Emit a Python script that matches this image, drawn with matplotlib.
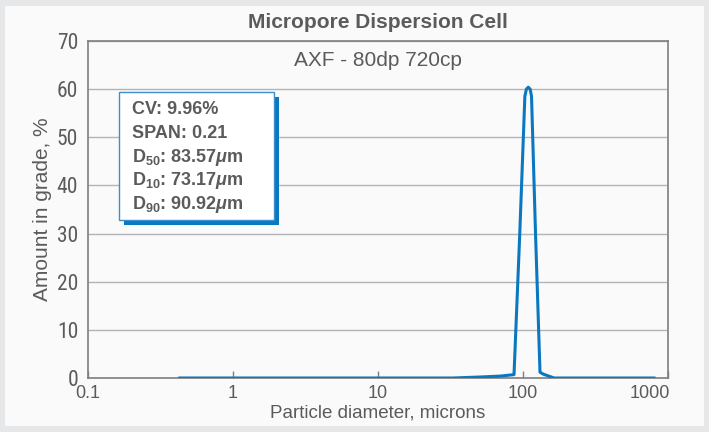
import matplotlib
matplotlib.use("Agg")
import matplotlib.pyplot as plt
from matplotlib.patches import Rectangle
from matplotlib import font_manager

# ---- data ----
diam = [0.43, 1, 10, 32.9, 50, 70, 86.7, 95, 103, 105.5, 108.8, 112, 114.5, 122, 131, 138, 164, 200, 500, 800]
amount = [0, 0, 0, 0, 0.2, 0.4, 0.7, 30, 58.5, 60.0, 60.4, 60.0, 58.5, 30, 1.2, 0.8, 0, 0, 0, 0]
xticks = [0.1, 1, 10, 100, 1000]
xticklabels = ["0.1", "1", "10", "100", "1000"]
yticks = [0, 10, 20, 30, 40, 50, 60, 70]
stats = [r"CV: 9.96%", r"SPAN: 0.21", r"D$_{50}$: 83.57$\mu$m", r"D$_{10}$: 73.17$\mu$m", r"D$_{90}$: 90.92$\mu$m"]
title = "Micropore Dispersion Cell"
subtitle = "AXF - 80dp 720cp"

names = {f.name for f in font_manager.fontManager.ttflist}
narrow = "Liberation Sans"
for cand in ["Liberation Sans Narrow", "Nimbus Sans Narrow", "Roboto Condensed", "Archivo Narrow"]:
    if cand in names:
        narrow = cand
        break

plt.rcParams['font.family'] = ['Liberation Sans', 'DejaVu Sans']
plt.rcParams['mathtext.fontset'] = 'custom'
plt.rcParams['mathtext.rm'] = 'Liberation Sans:bold'
plt.rcParams['mathtext.it'] = 'Liberation Sans:bold:italic'
plt.rcParams['mathtext.bf'] = 'Liberation Sans:bold'

W, H = 709, 432
fig = plt.figure(figsize=(W/100, H/100), dpi=100, facecolor="#e6e7e9")
fig.patches.append(Rectangle((5/W, 6/H), 699/W, 420/H, transform=fig.transFigure,
                             facecolor="#fafafa", edgecolor="none", zorder=-5))

L, R, T, B = 88, 668, 41, 378
ax = fig.add_axes([L/W, 1-B/H, (R-L)/W, (B-T)/H])
ax.set_zorder(1)
ax.set_facecolor("#fafafa")
ax.set_xscale("log")
ax.set_xlim(0.1, 1000)
ax.set_ylim(0, 70)
txtc = "#5b5b5b"
for s in ax.spines.values():
    s.set_color("#7f7f7f")
    s.set_linewidth(1.2)
ax.set_yticks(yticks)
ax.set_yticklabels([str(v) for v in yticks], family=[narrow, "DejaVu Sans"])
ax.set_xticks(xticks)
ax.set_xticklabels(xticklabels[:-1] + [""])
ax.minorticks_off()
ax.tick_params(axis="y", length=0, pad=7, labelsize=15.5, labelcolor=txtc)
ax.tick_params(axis="x", direction="in", length=5, width=1, color="#7f7f7f", pad=5, labelsize=13, labelcolor=txtc)
# last x tick label kept inside the frame, right-aligned as in the reference
ax.annotate(xticklabels[-1], xy=(xticks[-1], 0), xycoords=("data", "axes fraction"),
            xytext=(1.5, -5.2), textcoords="offset points", ha="right", va="top",
            fontsize=13, color=txtc)
ax.yaxis.grid(True, color="#b4b4b6", linewidth=1)
ax.set_axisbelow(True)

ax.plot(diam, amount, color="#0a78c0", linewidth=2.2, solid_joinstyle="round", zorder=3)

ax.set_xlabel("Particle diameter, microns", fontsize=13.5, color=txtc, labelpad=2)
ax.set_ylabel("Amount in grade, %", fontsize=15, color=txtc)
ax.yaxis.set_label_coords((52-L)/(R-L), 0.5)

fig.text(378/W, 1-23/H, title, ha="center", va="center", fontsize=15, fontweight="bold",
         color=txtc)
ax.text(0.5, 1-(60-T)/(B-T), subtitle, transform=ax.transAxes, ha="center", va="center", fontsize=15, color=txtc)

# stats box with shadow
bx0, by0, bx1, by1 = 119, 92, 274, 220
fig.patches.append(Rectangle(((bx0+5)/W, 1-(by1+5)/H), (bx1-bx0)/W, (by1-by0)/H, transform=fig.transFigure,
                             facecolor="#0a78c0", edgecolor="none", zorder=5))
fig.patches.append(Rectangle((bx0/W, 1-by1/H), (bx1-bx0)/W, (by1-by0)/H, transform=fig.transFigure,
                             facecolor="white", edgecolor="#3a8fcc", linewidth=1, zorder=6))
for i, s in enumerate(stats):
    fig.text(132/W, 1-(109+24*i)/H, s, ha="left", va="center", fontsize=13, fontweight="bold",
             color=txtc, zorder=7)

fig.savefig("out.png", dpi=100, facecolor=fig.get_facecolor())
